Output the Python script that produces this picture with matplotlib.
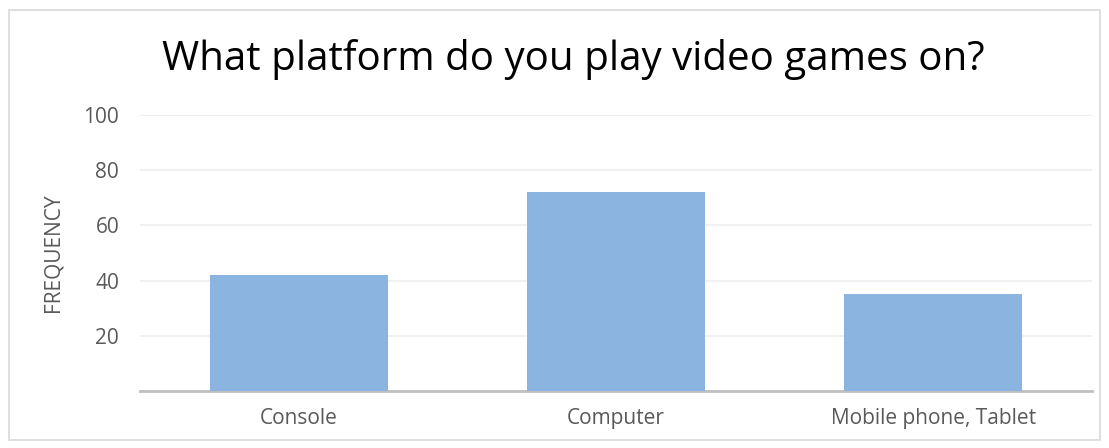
import matplotlib
matplotlib.use("Agg")
from matplotlib import pyplot as plt
from matplotlib.patches import Rectangle

plt.rcParams['font.family'] = ['Open Sans', 'DejaVu Sans']

categories = ["Console", "Computer", "Mobile phone, Tablet"]
frequency = [42, 72, 35]
y_ticks = [20, 40, 60, 80, 100]

fig = plt.figure(figsize=(11.09, 4.48), dpi=100)
# chart area border
fig.patches.append(Rectangle((9 / 1109, 8 / 448), 1091 / 1109, 430 / 448,
                             transform=fig.transFigure, fill=False,
                             edgecolor='#d9d9d9', linewidth=1.2))

ax = fig.add_axes([140 / 1109, 57 / 448, 952 / 1109, 276 / 448])
x = range(len(categories))
ax.bar(x, frequency, width=0.56, color='#8bb5e0', zorder=3)

ax.set_xlim(-0.5, len(categories) - 0.5)
ax.set_ylim(0, 100)
ax.set_yticks(y_ticks)
ax.set_xticks(list(x))
ax.set_xticklabels(categories)
ax.yaxis.grid(True, color='#efefef', linewidth=1.2, zorder=0)
ax.tick_params(axis='both', length=0, labelsize=15, colors='#595959')
ax.tick_params(axis='x', pad=12)
ax.tick_params(axis='y', pad=15)

for side in ['top', 'right', 'left']:
    ax.spines[side].set_visible(False)
ax.spines['bottom'].set_color('#bfbfbf')
ax.spines['bottom'].set_linewidth(2)

ax.set_ylabel("FREQUENCY", fontsize=15, color='#595959', labelpad=14)
fig.text(573 / 1109, 1 - 60 / 448, "What platform do you play video games on?",
         ha='center', va='center', fontsize=29, color='black')

fig.savefig("out.png", dpi=100)
